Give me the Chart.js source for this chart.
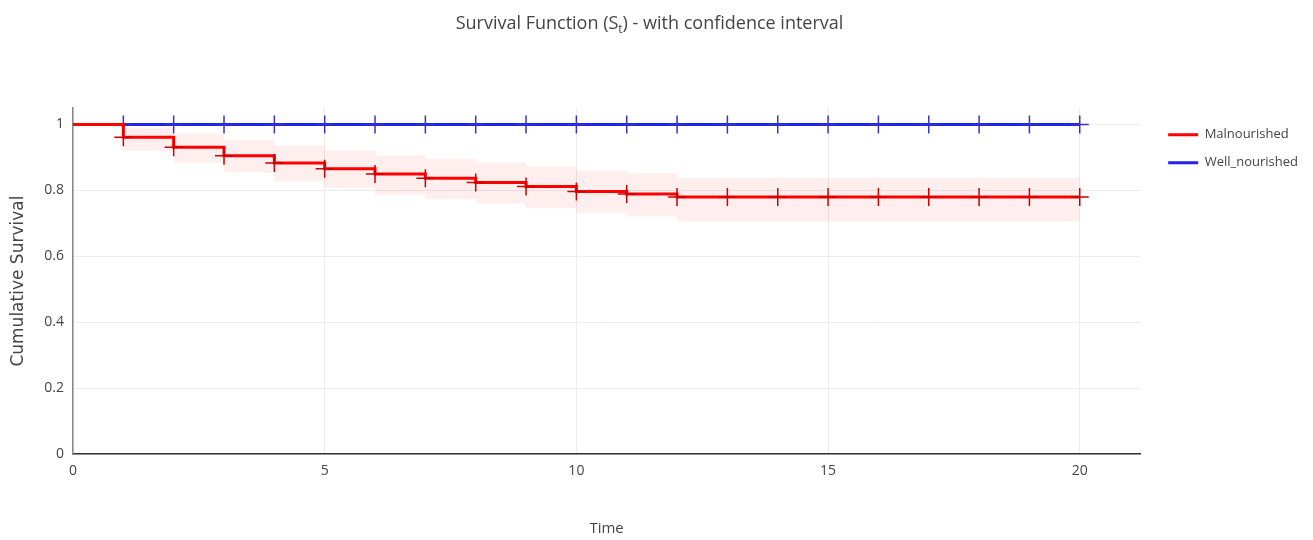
<html lang="en">
<head>
<meta charset="utf-8">
<script src="https://cdn.jsdelivr.net/npm/chart.js@4.4.0/dist/chart.umd.min.js"></script>
<title>Survival Function</title>
<style>
    body { margin : 0 ; background : white ; }
    #box { width : 1313px ; height : 540px ; }
</style>
</head>
<body>
<div id="box"><canvas id="survival_graph"></canvas></div>
<script>
    // time points and Kaplan-Meier estimates
    var times = [0,1,2,3,4,5,6,7,8,9,10,11,12,13,14,15,16,17,18,19,20];
    var malSurv  = [1,0.961,0.931,0.905,0.883,0.866,0.850,0.837,0.824,0.812,0.797,0.789,0.780,0.780,0.780,0.780,0.780,0.780,0.780,0.780,0.780];
    var malUpper = [1,0.990,0.972,0.952,0.936,0.921,0.906,0.895,0.884,0.872,0.860,0.852,0.838,0.838,0.838,0.838,0.838,0.838,0.838,0.838,0.838];
    var malLower = [1,0.920,0.885,0.855,0.828,0.808,0.788,0.774,0.760,0.746,0.732,0.722,0.706,0.706,0.706,0.706,0.706,0.706,0.706,0.706,0.706];
    var wellSurv = [1,1,1,1,1,1,1,1,1,1,1,1,1,1,1,1,1,1,1,1,1];
    var groups = ["Malnourished","Well_nourished"];
    var groupColors = ["#ff0000","#2222ee"];
    var yTicks = [0,0.2,0.4,0.6,0.8,1];
    var xTicks = [0,5,10,15,20];

    function pts(arr) {
        return times.map(function(t,i) { return {x:t, y:arr[i]}; });
    }
    // no marker at t=0, "+" markers at every other time
    function markRadius(c) { return c.dataIndex === 0 ? 0 : 9; }

    // title with subscript t
    var titlePlugin = {
        id : "subTitle",
        afterDraw : function(chart) {
            var ctx = chart.ctx;
            var a = "Survival Function (S", b = "t", c = ") - with confidence interval";
            ctx.save();
            ctx.fillStyle = "#444";
            ctx.textBaseline = "alphabetic";
            ctx.font = "18px 'Open Sans'";
            var wa = ctx.measureText(a).width, wc = ctx.measureText(c).width;
            ctx.font = "12px 'Open Sans'";
            var wb = ctx.measureText(b).width;
            var x = chart.width/2 - (wa+wb+wc)/2 - 7, y = 29;
            ctx.font = "18px 'Open Sans'";
            ctx.fillText(a, x, y);
            ctx.font = "12px 'Open Sans'";
            ctx.fillText(b, x+wa, y+4);
            ctx.font = "18px 'Open Sans'";
            ctx.fillText(c, x+wa+wb, y);
            ctx.restore();
        }
    };

    new Chart("survival_graph", {
        type : "line",
        data : {
            datasets : [{
                label : groups[0],
                data : pts(malSurv),
                stepped : "before",
                borderColor : groupColors[0],
                backgroundColor : groupColors[0],
                borderWidth : 3,
                pointStyle : "cross",
                pointRadius : markRadius,
                pointBorderColor : "#cc0000",
                pointBorderWidth : 1.5,
                fill : false
            },{
                label : groups[1],
                data : pts(wellSurv),
                stepped : "before",
                borderColor : groupColors[1],
                backgroundColor : groupColors[1],
                borderWidth : 3,
                pointStyle : "cross",
                pointRadius : markRadius,
                pointBorderColor : "#3333cc",
                pointBorderWidth : 1.5,
                fill : false
            },{
                label : "upper",
                data : pts(malUpper),
                stepped : "before",
                borderWidth : 0,
                borderColor : "rgba(0,0,0,0)",
                backgroundColor : "rgba(255,0,0,0.065)",
                pointRadius : 0,
                fill : "+1"
            },{
                label : "lower",
                data : pts(malLower),
                stepped : "before",
                borderWidth : 0,
                borderColor : "rgba(0,0,0,0)",
                pointRadius : 0,
                fill : false
            }]
        },
        options : {
            responsive : true,
            maintainAspectRatio : false,
            animation : false,
            layout : { padding : { top : 108, right : 5, left : 0, bottom : -2 } },
            plugins : {
                tooltip : { enabled : false },
                legend : {
                    position : "right",
                    align : "start",
                    title : { display : true, text : " ", font : { size : 1 }, padding : 2 },
                    labels : {
                        generateLabels : function(chart) {
                            return groups.map(function(g,i) {
                                return { text : g, fillStyle : groupColors[i], strokeStyle : groupColors[i],
                                         lineWidth : 0, fontColor : "#444", datasetIndex : i };
                            });
                        },
                        boxWidth : 30,
                        boxHeight : 3,
                        padding : 15,
                        color : "#444",
                        font : { family : "'Open Sans'", size : 13 }
                    }
                }
            },
            scales : {
                x : {
                    type : "linear",
                    min : 0,
                    max : 21.2,
                    afterBuildTicks : function(s) { s.ticks = xTicks.map(function(v) { return {value:v}; }); },
                    grid : { color : "#ececec", drawTicks : false },
                    border : { color : "#333", width : 1.5 },
                    ticks : { color : "#444", padding : 8, font : { family : "'Open Sans'", size : 14 } },
                    title : { display : true, text : "Time", color : "#444", padding : { top : 33 },
                              font : { family : "'Open Sans'", size : 15 } }
                },
                y : {
                    min : 0,
                    max : 1.05,
                    afterBuildTicks : function(s) { s.ticks = yTicks.map(function(v) { return {value:v}; }); },
                    afterFit : function(s) { s.width = 73; },
                    grid : { color : "#ececec", drawTicks : false },
                    border : { color : "#888", width : 1.5 },
                    ticks : { color : "#444", padding : 9, font : { family : "'Open Sans'", size : 14 },
                              callback : function(v) { return String(v); } },
                    title : { display : true, text : "Cumulative Survival", color : "#444", padding : { top : 8 },
                              font : { family : "'DejaVu Sans'", size : 17 } }
                },
                gap : {
                    position : "right",
                    afterFit : function(s) { s.width = 13; },
                    ticks : { display : false },
                    grid : { display : false },
                    border : { display : false }
                }
            }
        },
        plugins : [titlePlugin]
    });
</script>
</body>
</html>
